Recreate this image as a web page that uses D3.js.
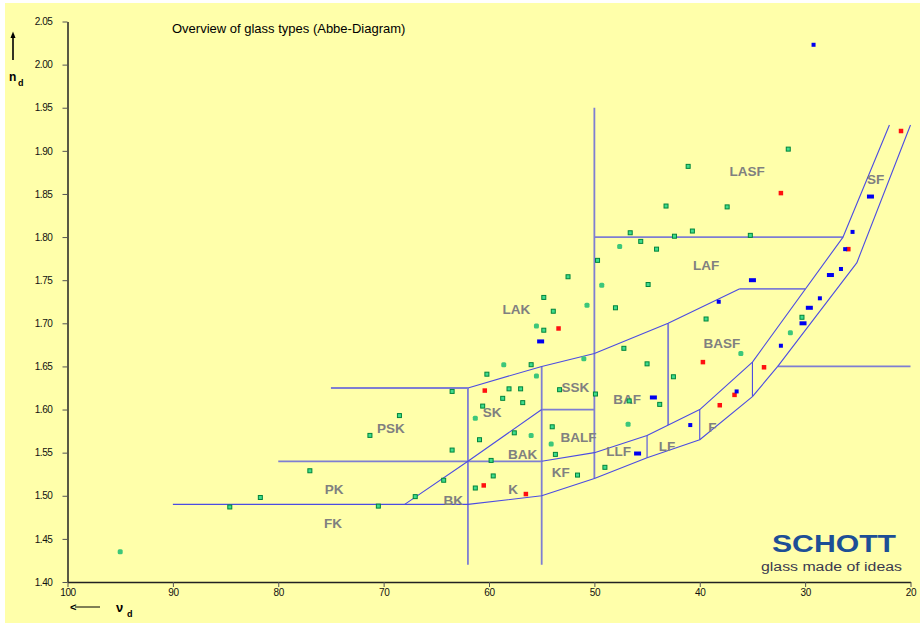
<!DOCTYPE html>
<html>
<head>
<meta charset="utf-8">
<script src="https://cdn.jsdelivr.net/npm/d3@7"></script>
<style>
body { margin: 0; background: #fff; }
text { font-family: Arial, "Liberation Sans", sans-serif; }
</style>
</head>
<body>
<svg id="chart"></svg>
<script>
// glasses as [nu_d, n_d], grouped by the colour of their marker
var greenGlasses = [
    [52.5,1.754],[54.8,1.730],[48.0,1.718],[53.9,1.714],[54.8,1.692],[47.2,1.671],[56.0,1.652],
    [60.2,1.641],[63.5,1.621],[58.1,1.624],[57.0,1.624],[53.3,1.623],[58.7,1.613],[49.9,1.618],
    [56.8,1.608],[60.6,1.604],[46.7,1.610],[54.0,1.580],[57.6,1.573],[60.9,1.565],[63.5,1.553],
    [53.7,1.548],[49.7,1.773],[68.5,1.593],[71.3,1.570],[77.0,1.529],[59.8,1.541],[59.6,1.523],
    [61.3,1.509],[64.3,1.518],[67.0,1.499],[70.5,1.488],[43.8,1.606],[49.0,1.533],[51.6,1.524],
    [44.9,1.745],[39.4,1.705],[30.3,1.707],[45.0,1.653],[42.5,1.638],[41.1,1.882],[43.2,1.836],
    [37.4,1.835],[46.6,1.805],[42.4,1.801],[40.7,1.807],[35.2,1.802],[45.6,1.795],[44.1,1.786],
    [31.6,1.902],[84.6,1.487],[81.7,1.498]
];
var softGreenGlasses = [
    [49.3,1.744],[50.7,1.721],[55.5,1.697],[58.6,1.652],[55.5,1.639],[51.0,1.659],[61.3,1.590],
    [56.0,1.570],[54.1,1.560],[46.8,1.583],[31.4,1.689],[36.1,1.665],[47.6,1.789],[95.0,1.435]
];
var blueGlasses = [
    [29.2,2.023],[28.6,1.729],[38.2,1.725],[32.3,1.674],[36.5,1.621],[40.9,1.582],
    [25.5,1.806],[26.2,1.786],[26.6,1.763]
];
var blueWideGlasses = [
    [55.1,1.679],[44.4,1.614],[45.9,1.549],[29.6,1.718],[30.2,1.700],[35.0,1.750],
    [23.8,1.847],[27.6,1.756]
];
var redGlasses = [
    [53.4,1.694],[60.4,1.622],[60.5,1.512],[56.5,1.502],[36.7,1.617],[38.1,1.605],
    [39.7,1.655],[33.9,1.649],[32.3,1.851],[20.9,1.923],[25.9,1.786]
];

// borders of the glass type regions, [nu_d, n_d]
var slantBorders = [
    [[90,1.49],[62,1.49],[55,1.50],[50,1.52],[45,1.544],[40,1.565],[35,1.615],[32.6,1.65],[25.1,1.77],[20,1.93]],
    [[55,1.54],[50,1.55],[45,1.57],[40,1.60],[35,1.655],[26.4,1.80],[22,1.93]],
    [[68,1.49],[62,1.54],[55,1.60]],
    [[62,1.625],[55,1.65],[50,1.665],[43,1.70],[36.2,1.74]],
    [[45,1.57],[45,1.544]],
    [[40,1.60],[40,1.565]],
    [[35,1.655],[35,1.615]]
];
var straightBorders = [
    [[80,1.54],[55,1.54]],
    [[75,1.625],[62,1.625]],
    [[55,1.60],[50,1.60]],
    [[36.2,1.74],[30,1.74]],
    [[50,1.80],[26.4,1.80]],
    [[32.6,1.65],[20,1.65]],
    [[62,1.625],[62,1.42]],
    [[55,1.65],[55,1.42]],
    [[50,1.95],[50,1.52]],
    [[43,1.70],[43,1.582]]
];

// glass type names, placed at [nu_d, n_d]
var regionNames = ["LASF","SF","LAF","LAK","BASF","SSK","PSK","SK","BAF","BALF","BAK","LLF","LF","F","KF","K","PK","BK","FK"];
var regionSpots = [
    [35.5,1.877],[23.3,1.867],[39.4,1.767],[57.4,1.717],[37.9,1.677],[51.8,1.626],[69.3,1.578],
    [59.7,1.597],[46.9,1.612],[51.5,1.568],[56.8,1.548],[47.7,1.552],[43.1,1.557],[38.8,1.580],
    [53.2,1.527],[57.7,1.508],[74.7,1.508],[63.4,1.495],[74.8,1.468]
];

var xTicks = [100,90,80,70,60,50,40,30,20];
var yTicks = [1.40,1.45,1.50,1.55,1.60,1.65,1.70,1.75,1.80,1.85,1.90,1.95,2.00,2.05];

drawChart();

function drawChart() {
    var svgWidth = 920, svgHeight = 626;

    var svg = d3.select("#chart")
        .attr("width", svgWidth)
        .attr("height", svgHeight);

    //yellow background
    svg.append("rect")
        .attr("x", 5).attr("y", 3)
        .attr("width", 915).attr("height", 620)
        .attr("fill", "#ffffaa");

    var x = d3.scaleLinear().domain([100, 20]).range([67.5, 910.5]);
    var y = d3.scaleLinear().domain([1.40, 2.05]).range([582, 21.5]);

    //region borders
    var line = d3.line()
        .x(function(d) { return x(d[0]); })
        .y(function(d) { return y(d[1]); });

    svg.append("g").selectAll("path")
        .data(straightBorders)
        .enter().append("path")
        .attr("d", line)
        .attr("fill", "none")
        .attr("stroke", "#7e7ed2")
        .attr("stroke-width", 1.8);

    svg.append("g").selectAll("path")
        .data(slantBorders)
        .enter().append("path")
        .attr("d", line)
        .attr("fill", "none")
        .attr("stroke", "#4c4ce2")
        .attr("stroke-width", 1.1)
        .attr("stroke-linejoin", "round");

    //region names
    svg.append("g").selectAll("text")
        .data(regionNames)
        .enter().append("text")
        .attr("x", function(d, i) { return x(regionSpots[i][0]); })
        .attr("y", function(d, i) { return y(regionSpots[i][1]); })
        .attr("dy", "0.36em")
        .attr("text-anchor", "middle")
        .attr("font-size", 13.5)
        .attr("font-weight", "bold")
        .attr("fill", "#808080")
        .text(function(d) { return d; });

    //axes
    var gx = svg.append("g")
        .attr("transform", "translate(0," + y(1.40) + ")")
        .call(d3.axisBottom(x).tickValues(xTicks).tickSize(5).tickSizeOuter(0).tickPadding(2)
            .tickFormat(d3.format("d")));
    var gy = svg.append("g")
        .attr("transform", "translate(" + x(100) + ",0)")
        .call(d3.axisLeft(y).tickValues(yTicks).tickSize(5).tickSizeOuter(0).tickPadding(10)
            .tickFormat(d3.format(".2f")));

    [gx, gy].forEach(function(g) {
        g.select(".domain").attr("stroke", "#222").attr("stroke-width", 1.5);
        g.selectAll(".tick line").attr("stroke", "#555");
        g.selectAll(".tick text")
            .attr("fill", "#111")
            .attr("font-size", 10)
            .attr("font-family", "Arial, 'Liberation Sans', sans-serif")
            .attr("letter-spacing", "-0.4px");
    });

    //glass markers
    function square(data, w, h, fill, stroke, rx) {
        svg.append("g").selectAll("rect")
            .data(data)
            .enter().append("rect")
            .attr("x", function(d) { return x(d[0]) - w / 2; })
            .attr("y", function(d) { return y(d[1]) - h / 2; })
            .attr("width", w)
            .attr("height", h)
            .attr("rx", rx)
            .attr("fill", fill)
            .attr("stroke", stroke)
            .attr("stroke-width", stroke == "none" ? 0 : 1);
    }
    square(softGreenGlasses, 5, 5, "#3cc77a", "none", 1.5);
    square(greenGlasses, 4, 4, "#3fdc8c", "#00843c", 0);
    square(redGlasses, 4.5, 4.5, "#ff1010", "none", 0);
    square(blueGlasses, 4, 4, "#0000f0", "none", 0);
    square(blueWideGlasses, 7, 4, "#0000f0", "none", 0);

    //title
    svg.append("text")
        .attr("x", 172).attr("y", 33)
        .attr("font-size", 13)
        .attr("fill", "#000")
        .text("Overview of glass types (Abbe-Diagram)");

    //n_d label with arrow
    svg.append("path")
        .attr("d", "M13,60V34")
        .attr("stroke", "#000")
        .attr("stroke-width", 1.6);
    svg.append("path")
        .attr("d", "M10.5,38L13,31.5L15.5,38Z")
        .attr("fill", "#000");
    svg.append("text")
        .attr("x", 9).attr("y", 81)
        .attr("font-size", 12).attr("font-weight", "bold")
        .text("n");
    svg.append("text")
        .attr("x", 18).attr("y", 86)
        .attr("font-size", 9).attr("font-weight", "bold")
        .text("d");

    //nu_d label with arrow
    svg.append("text")
        .attr("x", 70).attr("y", 611)
        .attr("font-size", 11).attr("font-weight", "bold")
        .text("<");
    svg.append("path")
        .attr("d", "M75,607H100")
        .attr("stroke", "#000")
        .attr("stroke-width", 1);
    svg.append("text")
        .attr("x", 116).attr("y", 612)
        .attr("font-size", 13).attr("font-weight", "bold")
        .text("ν");
    svg.append("text")
        .attr("x", 127).attr("y", 617)
        .attr("font-size", 9).attr("font-weight", "bold")
        .text("d");

    //logo
    svg.append("text")
        .attr("x", 772).attr("y", 552)
        .attr("font-size", 24)
        .attr("font-weight", "bold")
        .attr("font-family", "'DejaVu Sans', Verdana, sans-serif")
        .attr("textLength", 124)
        .attr("lengthAdjust", "spacingAndGlyphs")
        .attr("fill", "#1d4f96")
        .text("SCHOTT");
    svg.append("text")
        .attr("x", 761).attr("y", 570.5)
        .attr("font-size", 12.5)
        .attr("font-family", "'DejaVu Sans', Verdana, sans-serif")
        .attr("textLength", 141)
        .attr("lengthAdjust", "spacingAndGlyphs")
        .attr("fill", "#3a3a50")
        .text("glass made of ideas");
}
</script>
</body>
</html>
